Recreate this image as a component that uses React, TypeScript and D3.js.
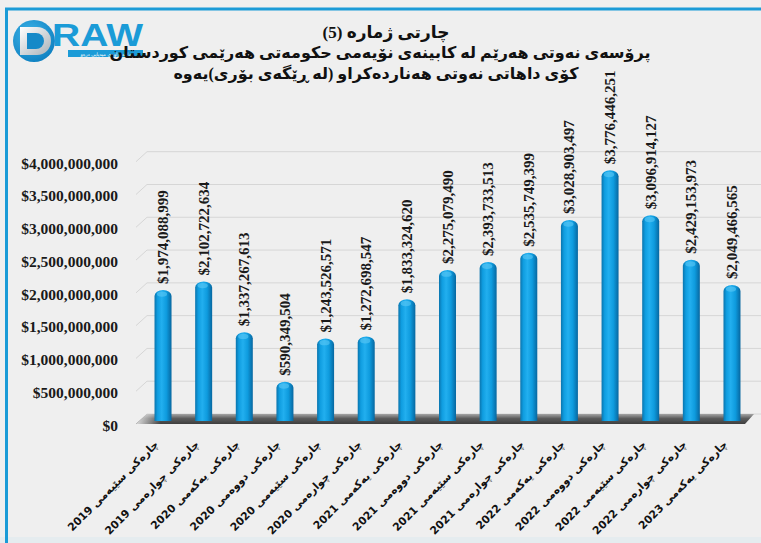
import React from "react";
import * as d3 from "d3";

const categories: string[] = [
  "چارەکی سێیەمی 2019",
  "چارەکی چوارەمی 2019",
  "چارەکی یەکەمی 2020",
  "چارەکی دووەمی 2020",
  "چارەکی سێیەمی 2020",
  "چارەکی چوارەمی 2020",
  "چارەکی یەکەمی 2021",
  "چارەکی دووەمی 2021",
  "چارەکی سێیەمی 2021",
  "چارەکی چوارەمی 2021",
  "چارەکی یەکەمی 2022",
  "چارەکی دووەمی 2022",
  "چارەکی سێیەمی 2022",
  "چارەکی چوارەمی 2022",
  "چارەکی یەکەمی 2023",
];

const values: number[] = [
  1974088999, 2102722634, 1337267613, 590349504, 1243526571, 1272698547,
  1833324620, 2275079490, 2393733513, 2535749399, 3028903497, 3776446251,
  3096914127, 2429153973, 2049466565,
];

const yTicks: number[] = [0, 500000000, 1000000000, 1500000000, 2000000000, 2500000000, 3000000000, 3500000000, 4000000000];

const titleLines: string[] = [
  "چارتی ژمارە (5)",
  "پرۆسەی نەوتی هەرێم لە کابینەی نۆیەمی حکومەتی هەرێمی کوردستان",
  "کۆی داهاتی نەوتی هەناردەکراو (لە ڕێگەی بۆری)یەوە",
];

const W = 761;
const H = 543;
const BLUE = "#1b9bd7";
const ARABIC_FONT = "'Liberation Serif', 'DejaVu Sans', sans-serif";

export default function App() {
  const x = d3.scaleBand<string>().domain(categories).range([142.7, 752.3]).padding(0);
  const yBar = d3.scaleLinear().domain([0, 4e9]).range([421, 155.4]);
  const yFront = d3.scaleLinear().domain([0, 4e9]).range([425, 163]);
  const yBack = d3.scaleLinear().domain([0, 4e9]).range([414, 151.7]);
  const fmt = (v: number) => "$" + d3.format(",")(v);
  const bw = 17;
  const capH = 6;

  const barPath = (cx: number, v: number) => {
    const x0 = cx - bw / 2;
    const x1 = cx + bw / 2;
    const top = yBar(v);
    const b = yBar(0);
    return `M${x0},${b} L${x0},${top + capH} A${bw / 2},${capH} 0 0 1 ${x1},${top + capH} L${x1},${b} Z`;
  };

  return (
    <svg
      width={W}
      height={H}
      viewBox={`0 0 ${W} ${H}`}
      style={{ position: "absolute", left: 0, top: 0, display: "block" }}
    >
      <defs>
        <linearGradient id="barGrad" x1="0" x2="1" y1="0" y2="0">
          <stop offset="0%" stopColor="#0a74ad" />
          <stop offset="18%" stopColor="#0f9de0" />
          <stop offset="42%" stopColor="#22afef" />
          <stop offset="70%" stopColor="#0e9bde" />
          <stop offset="100%" stopColor="#0767a0" />
        </linearGradient>
        <linearGradient id="floorGrad" x1="0" x2="0" y1="0" y2="1">
          <stop offset="0%" stopColor="#a5a5a5" />
          <stop offset="45%" stopColor="#5c5c5c" />
          <stop offset="100%" stopColor="#3e3e3e" />
        </linearGradient>
        <linearGradient id="floorFade" x1="0" x2="1" y1="0" y2="0">
          <stop offset="0%" stopColor="#eeeeee" stopOpacity="0.9" />
          <stop offset="4%" stopColor="#eeeeee" stopOpacity="0" />
          <stop offset="100%" stopColor="#eeeeee" stopOpacity="0" />
        </linearGradient>
        <radialGradient id="logoGrad" cx="0.4" cy="0.35" r="0.7">
          <stop offset="0%" stopColor="#3fb6ea" />
          <stop offset="100%" stopColor="#0d7fc0" />
        </radialGradient>
        <linearGradient id="dGrad" x1="0" x2="1" y1="0" y2="1">
          <stop offset="0%" stopColor="#ffffff" />
          <stop offset="100%" stopColor="#a9b1b8" />
        </linearGradient>
      </defs>

      {/* background */}
      <rect x={0} y={0} width={W} height={H} fill="#efefef" />
      <rect x={0} y={537} width={W} height={6} fill="#e5ecef" />
      {/* frame */}
      <line x1={5} x2={W} y1={9} y2={9} stroke={BLUE} strokeWidth={3} />
      <line x1={6.5} x2={6.5} y1={8} y2={H} stroke={BLUE} strokeWidth={3} />

      {/* logo */}
      <g>
        <circle cx={34} cy={41} r={21} fill="url(#logoGrad)" />
        <path d="M20,27 L37,27 A14,14 0 0 1 37,55 L20,55 Z" fill="url(#dGrad)" />
        <path d="M27,33 L36,33 A8,8 0 0 1 36,49 L27,49 Z" fill="#1589c8" />
        <text
          x={52}
          y={46}
          fontFamily="'Liberation Sans', Arial, sans-serif"
          fontWeight="bold"
          fontSize={32}
          fill={BLUE}
          textLength={91}
          lengthAdjust="spacingAndGlyphs"
        >
          RAW
        </text>
        <rect x={68} y={50} width={75} height={7} fill={BLUE} />
        <text
          x={105.5}
          y={55.8}
          textAnchor="middle"
          direction="rtl"
          fontFamily="'DejaVu Sans', sans-serif"
          fontSize={4.8}
          fill="#ffffff"
        >
          دامەزراوەی میدیایی درەو
        </text>
      </g>

      {/* title */}
      {titleLines.map((t, i) => (
        <text
          key={i}
          x={[386, 380, 376][i]}
          y={[38, 58, 79][i]}
          textAnchor="middle"
          direction="rtl"
          fontFamily={ARABIC_FONT}
          fontWeight="bold"
          fontSize={i === 0 ? 17 : 16}
          fill="#111"
        >
          {t}
        </text>
      ))}

      {/* back wall gridlines */}
      {yTicks.map((t) => (
        <g key={t}>
          <line x1={147} x2={W} y1={yBack(t)} y2={yBack(t)} stroke="#d6d6d6" strokeWidth={1} />
          <line x1={136} x2={147} y1={yBack(t) + 10} y2={yBack(t)} stroke="#d6d6d6" strokeWidth={1} />
        </g>
      ))}

      {/* floor */}
      <polygon points="136,424 147,414 754,414 745,424" fill="url(#floorGrad)" />
      <polygon points="136,424 147,414 754,414 745,424" fill="url(#floorFade)" />

      {/* y axis labels */}
      {yTicks.map((t) => (
        <text
          key={t}
          x={118}
          y={yFront(t)}
          textAnchor="end"
          dominantBaseline="central"
          fontFamily="'Liberation Serif', 'Times New Roman', serif"
          fontWeight="bold"
          fontSize={15.5}
          fill="#1a1a1a"
        >
          {fmt(t)}
        </text>
      ))}

      {/* bars */}
      {categories.map((c, i) => {
        const cx = (x(c) as number) + x.bandwidth() / 2;
        const v = values[i];
        return (
          <g key={c}>
            <path d={barPath(cx, v)} fill="url(#barGrad)" />
            <ellipse cx={cx - 1} cy={yBar(v) + capH * 0.7} rx={bw * 0.3} ry={capH * 0.45} fill="#5cc8f5" opacity={0.6} />
            <text
              transform={`translate(${cx + 5},${yBar(v) - 6}) rotate(-90)`}
              textAnchor="start"
              fontFamily="'Liberation Serif', 'Times New Roman', serif"
              fontWeight="bold"
              fontSize={15}
              fill="#1a1a1a"
            >
              {fmt(v)}
            </text>
          </g>
        );
      })}

      {/* x axis labels */}
      {categories.map((c) => {
        const cx = (x(c) as number) + x.bandwidth() / 2;
        return (
          <text
            key={c}
            transform={`translate(${cx - 4},445) rotate(-45)`}
            textAnchor="end"
            fontFamily="'DejaVu Sans', sans-serif"
            fontWeight="bold"
            fontSize={10.8}
            fill="#111"
          >
            {c}
          </text>
        );
      })}
    </svg>
  );
}
